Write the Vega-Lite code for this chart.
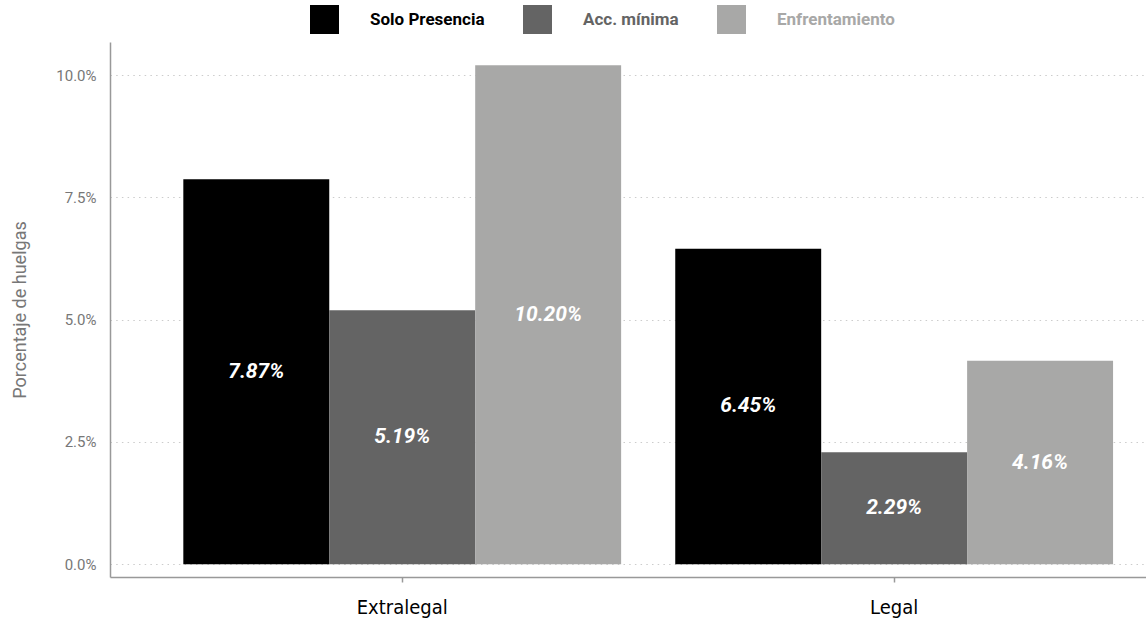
{
  "$schema": "https://vega.github.io/schema/vega-lite/v6.json",
  "width": 1036,
  "height": 535,
  "autosize": {"type": "none"},
  "padding": {"left": 110, "top": 42, "right": 0, "bottom": 50},
  "background": "white",
  "config": {
    "view": {"stroke": null},
    "font": "Roboto"
  },
  "data": {
    "values": [
      {"tipo": "Extralegal", "accion": "Solo Presencia", "valor": 0.0787},
      {"tipo": "Extralegal", "accion": "Acc. mínima", "valor": 0.0519},
      {"tipo": "Extralegal", "accion": "Enfrentamiento", "valor": 0.1020},
      {"tipo": "Legal", "accion": "Solo Presencia", "valor": 0.0645},
      {"tipo": "Legal", "accion": "Acc. mínima", "valor": 0.0229},
      {"tipo": "Legal", "accion": "Enfrentamiento", "valor": 0.0416}
    ]
  },
  "encoding": {
    "x": {
      "field": "tipo",
      "type": "nominal",
      "scale": {"paddingInner": 0.11, "paddingOuter": 0.108, "align": 0.69},
      "axis": {
        "title": null,
        "labelAngle": 0,
        "labelFontSize": 20,
        "labelFont": "DejaVu Sans Condensed",
        "labelColor": "#000000",
        "labelPadding": 15,
        "domainColor": "#999999",
        "domainWidth": 1.5,
        "tickColor": "#999999",
        "tickWidth": 1.5,
        "tickSize": 5,
        "grid": false
      }
    },
    "xOffset": {"field": "accion", "type": "nominal", "sort": ["Solo Presencia", "Acc. mínima", "Enfrentamiento"], "scale": {"paddingInner": 0, "paddingOuter": 0}}
  },
  "layer": [
    {
      "mark": {"type": "bar"},
      "encoding": {
        "y": {
          "field": "valor",
          "type": "quantitative",
          "scale": {"domain": [-0.0026, 0.10675], "nice": false, "zero": false},
          "axis": {
            "title": "Porcentaje de huelgas",
            "titleFontSize": 18,
            "titleFontWeight": "normal",
            "titleColor": "#777777",
            "titlePadding": 26,
            "format": ".1%",
            "values": [0, 0.025, 0.05, 0.075, 0.1],
            "labelFontSize": 15,
            "labelColor": "#777777",
            "labelPadding": 14,
            "ticks": false,
            "domainColor": "#999999",
            "domainWidth": 1.5,
            "gridColor": "#cccccc",
            "gridDash": [1.5, 4.2],
            "gridWidth": 1
          }
        },
        "y2": {"datum": 0},
        "color": {
          "field": "accion",
          "type": "nominal",
          "sort": ["Solo Presencia", "Acc. mínima", "Enfrentamiento"],
          "scale": {"domain": ["Solo Presencia", "Acc. mínima", "Enfrentamiento"], "range": ["#000000", "#646464", "#a8a8a7"]},
          "legend": {
            "title": null,
            "orient": "none",
            "direction": "horizontal",
            "legendX": 200,
            "legendY": -37,
            "symbolType": "square",
            "symbolSize": 841,
            "symbolStrokeWidth": 0,
            "labelFontSize": 17,
            "labelFontWeight": "bold",
            "labelOffset": 31,
            "columnPadding": 38,
            "labelColor": {"expr": "datum.value == 'Solo Presencia' ? '#000000' : datum.value == 'Acc. mínima' ? '#646464' : '#a8a8a7'"}
          }
        }
      }
    },
    {
      "transform": [{"calculate": "datum.valor / 2", "as": "mitad"}],
      "mark": {"type": "text", "color": "white", "fontSize": 21, "fontWeight": "bold", "fontStyle": "italic", "baseline": "middle"},
      "encoding": {
        "y": {"field": "mitad", "type": "quantitative"},
        "text": {"field": "valor", "type": "quantitative", "format": ".2%"}
      }
    }
  ]
}
